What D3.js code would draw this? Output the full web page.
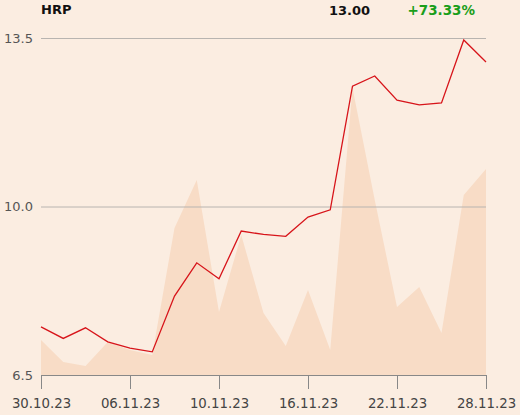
<!DOCTYPE html>
<html>
<head>
<meta charset="utf-8">
<script src="https://cdn.jsdelivr.net/npm/d3@7"></script>
<style>
  body { margin: 0; background: #fbede1; }
  svg { display: block; }
  svg text { font-family: 'DejaVu Sans', sans-serif; }
</style>
</head>
<body>
<div id="chart"></div>
<script>
// Chart data
const symbol = 'HRP';
const lastPrice = '13.00';
const change = '+73.33%';
const closes = [7.50, 7.26, 7.48, 7.19, 7.06, 6.98, 8.14, 8.83, 8.50, 9.49, 9.42, 9.38, 9.78, 9.93,
    12.50, 12.71, 12.21, 12.11, 12.15, 13.46, 13.00];
const volumes = [35, 13, 9, 33, 25, 20, 147, 195, 63, 140, 62, 29, 85, 25, 287, 175, 68, 88, 42, 180, 206];
const tickIndexes = [0, 4, 8, 12, 16, 20];
const tickLabels = ['30.10.23', '06.11.23', '10.11.23', '16.11.23', '22.11.23', '28.11.23'];
const yTicks = [6.5, 10.0, 13.5];

const svgWidth = 520;
const svgHeight = 415;
const margin = {top: 38, right: 34, bottom: 40, left: 41};
const width = svgWidth - margin.left - margin.right;
const height = svgHeight - margin.top - margin.bottom;

const x = d3.scaleLinear().domain([0, closes.length - 1]).range([0, width]);
const y = d3.scaleLinear().domain([6.5, 13.5]).range([height, 0]);
const yVol = d3.scaleLinear().domain([0, 337]).range([height, 0]);

const svg = d3.select('#chart').append('svg')
    .attr('width', svgWidth)
    .attr('height', svgHeight);

const g = svg.append('g')
    .attr('transform', 'translate(' + margin.left + ',' + margin.top + ')');

// Volume area
g.append('path')
    .datum(volumes)
    .attr('fill', '#f8dcc6')
    .attr('d', d3.area()
        .x((d, i) => x(i))
        .y0(height)
        .y1(d => yVol(d)));

// Grid lines (not at bottom)
g.append('g')
    .call(d3.axisLeft(y).tickValues(yTicks.filter(v => v !== 6.5)).tickSize(-width).tickFormat(''))
    .call(s => s.select('.domain').remove())
    .call(s => s.selectAll('line').attr('stroke', '#b8b4b0'));

// Y labels
g.append('g')
    .call(d3.axisLeft(y).tickValues(yTicks).tickSize(0).tickPadding(8).tickFormat(d3.format('.1f')))
    .call(s => s.select('.domain').remove())
    .call(s => s.selectAll('text').attr('fill', '#555').style('font-size', '13px')
        .attr('dy', '0.32em'));

// X axis
g.append('g')
    .attr('transform', 'translate(0,' + height + ')')
    .call(d3.axisBottom(x).tickValues(tickIndexes).tickSize(14).tickPadding(10)
        .tickFormat((d, i) => tickLabels[i]))
    .call(s => s.select('.domain').attr('stroke', '#888').attr('d', 'M0,0.5H' + width))
    .call(s => s.selectAll('line').attr('stroke', '#888'))
    .call(s => s.selectAll('text').attr('fill', '#444').style('font-size', '13.3px'));

// Price line
g.append('path')
    .datum(closes)
    .attr('fill', 'none')
    .attr('stroke', '#d7141a')
    .attr('stroke-width', 1.3)
    .attr('d', d3.line().x((d, i) => x(i)).y(d => y(d)));

// Header
svg.append('text')
    .attr('x', 41).attr('y', 14)
    .style('font-size', '13px').style('font-weight', 'bold')
    .attr('fill', '#111')
    .text(symbol);
svg.append('text')
    .attr('x', 370).attr('y', 15)
    .attr('text-anchor', 'end')
    .style('font-size', '13px').style('font-weight', 'bold')
    .attr('fill', '#111')
    .text(lastPrice);
svg.append('text')
    .attr('x', 475).attr('y', 15)
    .attr('text-anchor', 'end')
    .style('font-size', '13.5px').style('font-weight', 'bold')
    .attr('fill', '#1a9e1a')
    .text(change);
</script>
</body>
</html>
